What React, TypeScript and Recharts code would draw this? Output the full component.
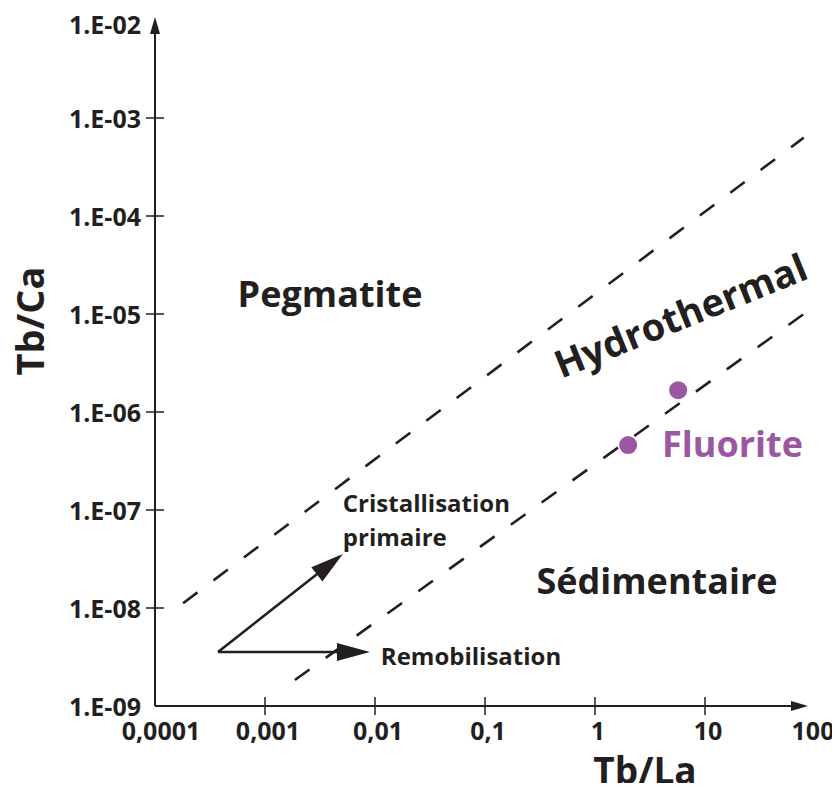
import { ScatterChart, Scatter, XAxis, YAxis, ReferenceLine, ReferenceDot, Label } from "recharts";

const INK = "#231f20";
const PURPLE = "#9b57a2";
const FONT = "'Open Sans', sans-serif";

// axes
const xTicks = [0.0001, 0.001, 0.01, 0.1, 1, 10, 100];
const xTickLabels = ["0,0001", "0,001", "0,01", "0,1", "1", "10", "100"];
const yTicks = [1e-9, 1e-8, 1e-7, 1e-6, 1e-5, 1e-4, 1e-3, 1e-2];
const yTickLabels = ["1.E-09", "1.E-08", "1.E-07", "1.E-06", "1.E-05", "1.E-04", "1.E-03", "1.E-02"];

// fluorite samples (Tb/La, Tb/Ca)
const fluorite = [
  { x: 5.7, y: 1.67e-6 },
  { x: 2.0, y: 4.6e-7 },
];

// field boundaries
const upperBoundary = [{ x: 1.8e-4, y: 1.12e-8 }, { x: 79, y: 6.3e-4 }];
const lowerBoundary = [{ x: 1.87e-3, y: 1.84e-9 }, { x: 84, y: 1.05e-5 }];

// trend arrows
const arrowOrigin = { x: 3.74e-4, y: 3.56e-9 };
const crystTip = { x: 5.1e-3, y: 3.56e-8 };
const remobTip = { x: 9.0e-3, y: 3.56e-9 };

// axis frame
const xAxisLine = [{ x: 1e-4, y: 1e-9 }, { x: 100, y: 1e-9 }];
const yAxisLine = [{ x: 1e-4, y: 1e-9 }, { x: 1e-4, y: 1e-2 }];

// annotations
const fieldLabels = [
  { x: 3.9e-3, y: 1.6e-5, text: "Pegmatite", size: 36, anchor: "middle", color: INK, angle: 0 },
  { x: 3.66, y: 1.93e-8, text: "Sédimentaire", size: 36, anchor: "middle", color: INK, angle: 0 },
  { x: 5.93, y: 9.9e-6, text: "Hydrothermal", size: 38, anchor: "middle", color: INK, angle: -22 },
  { x: 4.07, y: 4.8e-7, text: "Fluorite", size: 36, anchor: "start", color: PURPLE, angle: 0 },
  { x: 5.1e-3, y: 1.18e-7, text: "Cristallisation", size: 24, anchor: "start", color: INK, angle: 0 },
  { x: 5.1e-3, y: 5.4e-8, text: "primaire", size: 24, anchor: "start", color: INK, angle: 0 },
  { x: 1.13e-2, y: 3.3e-9, text: "Remobilisation", size: 24, anchor: "start", color: INK, angle: 0 },
];

const arrowShape = (headLen: number, headHalf: number, width: number, inset = 0) => (p: any) => {
  const { x1, y1, x2, y2 } = p;
  const dx = x2 - x1, dy = y2 - y1;
  const len = Math.sqrt(dx * dx + dy * dy) || 1;
  const ux = dx / len, uy = dy / len;
  const tx = x2 - ux * inset, ty = y2 - uy * inset;
  const bx = tx - ux * headLen, by = ty - uy * headLen;
  const pts = `${tx},${ty} ${bx - uy * headHalf},${by + ux * headHalf} ${bx + uy * headHalf},${by - ux * headHalf}`;
  return (
    <g>
      <line x1={x1} y1={y1} x2={bx + ux * 2} y2={by + uy * 2} stroke={INK} strokeWidth={width} />
      <polygon points={pts} fill={INK} />
    </g>
  );
};

const YTick = ({ x, y, index }: any) => (
  <g>
    {index < yTicks.length - 1 && index > 0 && (
      <line x1={x - 9} x2={x + 9} y1={y} y2={y} stroke={INK} strokeWidth={1.5} />
    )}
    <text x={x - 14} y={y + (index === yTicks.length - 1 ? 4 : 0)} textAnchor="end" dominantBaseline="central" fontFamily={FONT} fontWeight={700} fontSize={25} fill={INK}>
      {yTickLabels[index]}
    </text>
  </g>
);

const XTick = ({ x, y, index }: any) => {
  const last = index === xTicks.length - 1;
  return (
    <g>
      {!last && index > 0 && <line x1={x} x2={x} y1={y - 9} y2={y + 9} stroke={INK} strokeWidth={1.5} />}
      <text x={x + (index === 0 ? 6 : last ? -2 : 3)} y={y + 34} textAnchor="middle" fontFamily={FONT} fontWeight={700} fontSize={25} fill={INK}>
        {xTickLabels[index]}
      </text>
    </g>
  );
};

const textShape = (l: (typeof fieldLabels)[number]) => (p: any) => (
  <text
    x={p.cx}
    y={p.cy}
    textAnchor={l.anchor}
    dominantBaseline="central"
    transform={l.angle ? `rotate(${l.angle} ${p.cx} ${p.cy})` : undefined}
    fontFamily={FONT}
    fontWeight={700}
    fontSize={l.size}
    fill={l.color}
  >
    {l.text}
  </text>
);

export default function App() {
  return (
    <div style={{ margin: -8 }}>
      <ScatterChart width={840} height={791} margin={{ top: 20, right: 25, bottom: 0, left: 0 }}>
        <XAxis
          type="number"
          dataKey="x"
          scale="log"
          domain={[1e-4, 100]}
          ticks={xTicks}
          allowDataOverflow
          axisLine={false}
          tickLine={false}
          tickSize={0}
          tickMargin={0}
          height={85}
          tick={<XTick />}
          interval={0}
        >
          <Label
            content={({ viewBox }: any) => (
              <text x={viewBox.x + 490} y={viewBox.y + 78} textAnchor="middle" fontFamily={FONT} fontWeight={700} fontSize={37} fill={INK}>
                Tb/La
              </text>
            )}
          />
        </XAxis>
        <YAxis
          type="number"
          dataKey="y"
          scale="log"
          domain={[1e-9, 1e-2]}
          ticks={yTicks}
          allowDataOverflow
          axisLine={false}
          tickLine={false}
          tickSize={0}
          tickMargin={0}
          width={155}
          tick={<YTick />}
          interval={0}
        >
          <Label
            content={({ viewBox }: any) => {
              const cx = viewBox.x + 29;
              const cy = viewBox.y + 301;
              return (
                <text x={cx} y={cy} transform={`rotate(-90 ${cx} ${cy})`} textAnchor="middle" dominantBaseline="central" fontFamily={FONT} fontWeight={700} fontSize={38} fill={INK}>
                  Tb/Ca
                </text>
              );
            }}
          />
        </YAxis>

        <ReferenceLine segment={xAxisLine} ifOverflow="visible" shape={arrowShape(17, 5, 2, 7)} />
        <ReferenceLine segment={yAxisLine} ifOverflow="visible" shape={arrowShape(17, 5, 2, -3)} />

        <ReferenceLine segment={upperBoundary} ifOverflow="visible" stroke={INK} strokeWidth={2.6} strokeDasharray="18 20" />
        <ReferenceLine segment={lowerBoundary} ifOverflow="visible" stroke={INK} strokeWidth={2.6} strokeDasharray="18 20" />

        <ReferenceLine segment={[arrowOrigin, crystTip]} ifOverflow="visible" shape={arrowShape(33, 9, 2.6)} />
        <ReferenceLine segment={[arrowOrigin, remobTip]} ifOverflow="visible" shape={arrowShape(33, 9, 2.6)} />

        {fieldLabels.map((l) => (
          <ReferenceDot key={l.text} x={l.x} y={l.y} r={0} ifOverflow="visible" shape={textShape(l)} />
        ))}

        <Scatter
          data={fluorite}
          isAnimationActive={false}
          shape={(p: any) => <circle cx={p.cx} cy={p.cy} r={9} fill={PURPLE} />}
        />
      </ScatterChart>
    </div>
  );
}
